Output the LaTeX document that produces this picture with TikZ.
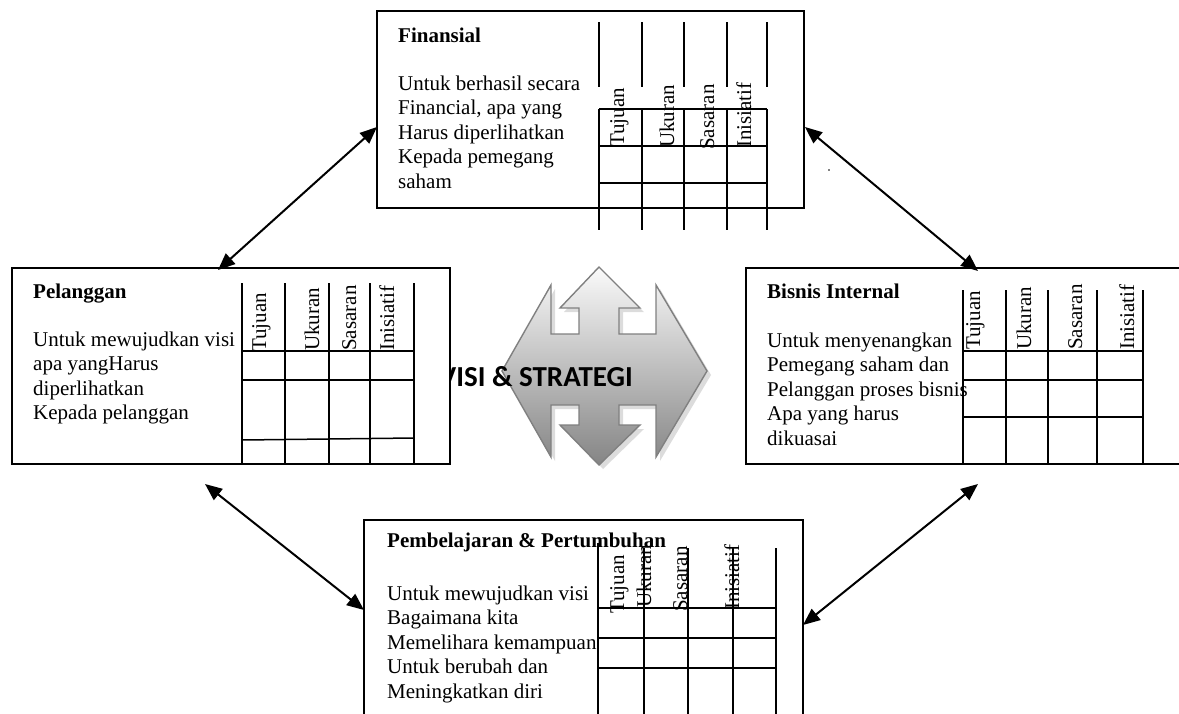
\documentclass[tikz,border=0pt]{standalone}
\usepackage{fontspec}
\setmainfont{Liberation Serif}
\newfontfamily\vsfont{Carlito}
\usetikzlibrary{arrows.meta,calc}
\begin{document}
\begin{tikzpicture}[x=1pt,y=-1pt,
  box/.style={draw, line width=1.8pt, fill=white, rectangle, inner sep=0pt},
  gridline/.style={line width=1.5pt},
  link/.style={line width=2pt, {Triangle[length=17pt,width=14pt]}-{Triangle[length=17pt,width=14pt]}},
  title/.style={anchor=base west, inner sep=0pt, font=\fontsize{21}{24.5}\selectfont\bfseries},
  body/.style={anchor=base west, inner sep=0pt, align=left, font=\fontsize{21}{24.5}\selectfont},
  head/.style={anchor=base west, inner sep=0pt, rotate=90, font=\fontsize{21}{24.5}\selectfont},
  vsshadow/.style={fill=black!30, opacity=0.45},
  vsbody/.style={draw=black!50, line width=1.4pt, top color=black!2, bottom color=black!48}]
\useasboundingbox (0,0) rectangle (1179,713);
\clip (0,0) rectangle (1179,713);

% central quad arrow
\def\vsshape{(502,371) -- (551,285) -- (551,334) -- (579,334) -- (579,308) -- (560,308) -- (599,267) -- (640,308) -- (619,308) -- (619,334) -- (656,334) -- (656,285) -- (707,371) -- (656,457) -- (656,405) -- (619,405) -- (619,425) -- (640,425) -- (599,465) -- (560,425) -- (579,425) -- (579,405) -- (551,405) -- (551,457) -- cycle}
\fill[vsshadow, shift={(4,4)}] \vsshape;
\path[vsbody] \vsshape;
\node[anchor=base east, inner sep=0pt, font=\fontsize{29}{34}\selectfont\vsfont\bfseries] (vs) at (633,386) {VISI \& STRATEGI};

% Finansial
\node[box, minimum width=427pt, minimum height=197pt] (fin) at (590.5,109.5) {};
\node[title] (fint) at (398,42) {Finansial};
\node[body] (finb) at (398,188) {Untuk berhasil secara\\Financial, apa yang\\Harus diperlihatkan\\Kepada pemegang\\saham};
\foreach \x in {599,642,684,727,767} {
  \draw[gridline] (\x,22) -- (\x,87);
  \draw[gridline] (\x,109) -- (\x,230);
}
\foreach \y in {109,146,183} \draw[gridline] (599,\y) -- (767,\y);
\node[head] (finh1) at (624,147) {Tujuan};
\node[head] (finh2) at (674,148) {Ukuran};
\node[head] (finh3) at (714,150) {Sasaran};
\node[head] (finh4) at (751,148) {Inisiatif};
\fill (829,170) circle (0.8);

% Pelanggan
\node[box, minimum width=438pt, minimum height=196pt] (pel) at (231,366) {};
\node[title] (pelt) at (33,298) {Pelanggan};
\node[body] (pelb) at (33,419.5) {Untuk mewujudkan visi\\apa yangHarus\\diperlihatkan\\Kepada pelanggan};
\foreach \x in {242,285,329,370,414} \draw[gridline] (\x,283) -- (\x,464);
\draw[gridline] (242,351) -- (414,351);
\draw[gridline] (242,380) -- (414,380);
\draw[gridline] (242,440) -- (414,438);
\node[head] (pelh1) at (266,352) {Tujuan};
\node[head] (pelh2) at (319,351) {Ukuran};
\node[head] (pelh3) at (356,351) {Sasaran};
\node[head] (pelh4) at (394,351) {Inisiatif};

% Bisnis Internal
\node[box, minimum width=438pt, minimum height=196pt] (bis) at (965,366) {};
\node[title] (bist) at (767,298) {Bisnis Internal};
\node[body] (bisb) at (767,445) {Untuk menyenangkan\\Pemegang saham dan\\Pelanggan proses bisnis\\Apa yang harus\\dikuasai};
\foreach \x in {963,1006,1048,1097,1143} \draw[gridline] (\x,290) -- (\x,464);
\foreach \y in {351,380,417} \draw[gridline] (963,\y) -- (1143,\y);
\node[head] (bish1) at (980,350) {Tujuan};
\node[head] (bish2) at (1031,350) {Ukuran};
\node[head] (bish3) at (1082,350) {Sasaran};
\node[head] (bish4) at (1134,350) {Inisiatif};

% Pembelajaran & Pertumbuhan
\node[box, minimum width=439pt, minimum height=197pt] (pem) at (583.5,618.5) {};
\node[title] (pemt) at (387,547) {Pembelajaran \& Pertumbuhan};
\node[body] (pemb) at (387,698) {Untuk mewujudkan visi\\Bagaimana kita\\Memelihara kemampuan\\Untuk berubah dan\\Meningkatkan diri};
\draw[gridline] (598,543) -- (598,720);
\foreach \x in {644,688,733,776} \draw[gridline] (\x,548) -- (\x,720);
\draw[gridline] (598,608) -- (776,608);
\draw[gridline] (598,638) -- (776,638);
\draw[gridline] (597,668) -- (776,668);
\node[head] (pemh1) at (624,614) {Tujuan};
\node[head] (pemh2) at (651,608) {Ukuran};
\node[head] (pemh3) at (687,612) {Sasaran};
\node[head] (pemh4) at (739,610) {Inisiatif};

% connectors
\coordinate (c1a) at (377,127);
\coordinate (c1b) at (218,270);
\coordinate (c2a) at (805,127);
\coordinate (c2b) at (978,271);
\coordinate (c3a) at (205,484);
\coordinate (c3b) at (364,610);
\coordinate (c4a) at (978,484);
\coordinate (c4b) at (803,625);
\draw[link] (c1a) -- (c1b);
\draw[link] (c2a) -- (c2b);
\draw[link] (c3a) -- (c3b);
\draw[link] (c4a) -- (c4b);
\end{tikzpicture}
\end{document}
